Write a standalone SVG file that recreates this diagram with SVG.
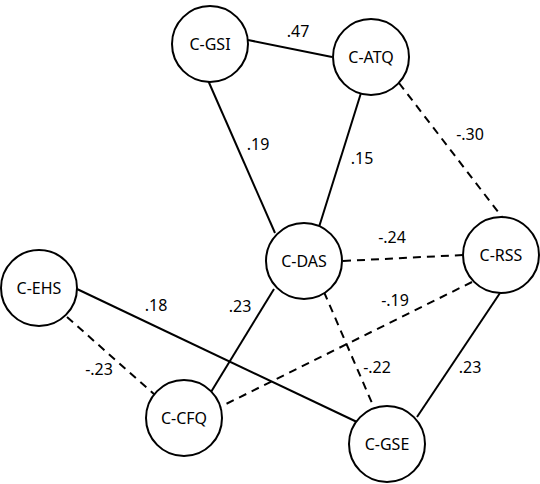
<svg xmlns="http://www.w3.org/2000/svg" width="540" height="484" viewBox="0 0 540 484">
<style>
.e{stroke:#000;stroke-width:2;fill:none}
.d{stroke-dasharray:8 6}
.n circle{fill:#fff;stroke:#000;stroke-width:2}
.n text{font-family:"Noto Sans","Open Sans",sans-serif;font-size:16px;text-anchor:middle;dominant-baseline:central}
.l{font-family:"Noto Sans","Open Sans",sans-serif;font-size:16px;text-anchor:middle}
</style>
<rect width="540" height="484" fill="#fff"/>
<g id="connectors">
<line class="e" x1="248" y1="40" x2="332" y2="57"/>
<line class="e" x1="207" y1="78" x2="275" y2="233"/>
<line class="e" x1="361" y1="93" x2="319" y2="227"/>
<line class="e d" x1="399" y1="83" x2="502" y2="217"/>
<line class="e d" x1="343" y1="261" x2="463" y2="255"/>
<line class="e d" x1="472" y1="282" x2="220" y2="407"/>
<line class="e d" x1="324" y1="292" x2="375" y2="410"/>
<line class="e" x1="274" y1="289" x2="211" y2="392"/>
<line class="e" x1="77" y1="289" x2="357" y2="422"/>
<line class="e d" x1="67" y1="317" x2="155" y2="395"/>
<line class="e" x1="500" y1="293" x2="417" y2="417"/>
</g>
<g id="labels">
<text class="l" x="298" y="37">.47</text>
<text class="l" x="258" y="150">.19</text>
<text class="l" x="362" y="164">.15</text>
<text class="l" x="470" y="140">-.30</text>
<text class="l" x="392" y="243">-.24</text>
<text class="l" x="395" y="306">-.19</text>
<text class="l" x="156" y="311">.18</text>
<text class="l" x="240" y="312">.23</text>
<text class="l" x="99" y="375">-.23</text>
<text class="l" x="377" y="373">-.22</text>
<text class="l" x="470" y="373">.23</text>
</g>
<g id="C-GSI" class="n"><circle cx="210" cy="44" r="38"/><text x="210" y="44">C-GSI</text></g>
<g id="C-ATQ" class="n"><circle cx="371" cy="57" r="38"/><text x="371" y="57">C-ATQ</text></g>
<g id="C-DAS" class="n"><circle cx="304" cy="261" r="38"/><text x="304" y="261">C-DAS</text></g>
<g id="C-RSS" class="n"><circle cx="501" cy="255" r="38"/><text x="501" y="255">C-RSS</text></g>
<g id="C-EHS" class="n"><circle cx="39" cy="288" r="38"/><text x="39" y="288">C-EHS</text></g>
<g id="C-CFQ" class="n"><circle cx="184" cy="418" r="38"/><text x="184" y="418">C-CFQ</text></g>
<g id="C-GSE" class="n"><circle cx="387" cy="444" r="38"/><text x="387" y="444">C-GSE</text></g>
</svg>
